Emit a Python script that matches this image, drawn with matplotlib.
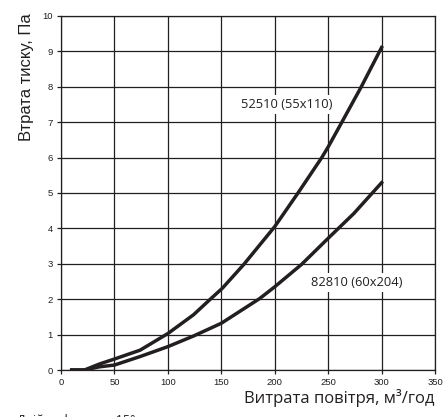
import matplotlib
matplotlib.use("Agg")
from matplotlib import pyplot as plt

# Curve 52510 (55x110)
flow_a = [10, 22, 36, 50, 74, 100, 124, 139, 151, 171, 200, 222, 230, 244, 250, 263, 281, 300]
loss_a = [0, 0, 0.17, 0.31, 0.56, 1.03, 1.56, 1.98, 2.31, 2.98, 4.05, 5.01, 5.37, 6.0, 6.3, 7.01, 8.0, 9.11]

# Curve 82810 (60x204)
flow_b = [10, 22, 36, 50, 74, 100, 124, 150, 186, 200, 225, 250, 274, 300]
loss_b = [0, 0, 0.09, 0.14, 0.38, 0.66, 0.96, 1.32, 2.02, 2.35, 2.98, 3.72, 4.42, 5.29]

label_a = "52510 (55x110)"
label_b = "82810 (60x204)"


def main():
    fig = plt.figure(figsize=(4.43, 4.17), dpi=100)
    ax = fig.add_axes([0.1377, 0.1127, 0.8443, 0.849])

    ax.plot(flow_a, loss_a, color="#231f20", lw=2.5, solid_joinstyle="round", zorder=3)
    ax.plot(flow_b, loss_b, color="#231f20", lw=2.5, solid_joinstyle="round", zorder=3)

    ax.set_xlim(0, 350)
    ax.set_ylim(0, 10)
    ax.set_xticks(range(0, 351, 50))
    ax.set_yticks(range(0, 11))
    ax.grid(True, color="#231f20", lw=0.9)
    ax.set_axisbelow(True)
    for s in ax.spines.values():
        s.set_color("#231f20")
        s.set_linewidth(0.9)
    ax.tick_params(labelsize=6.8, length=3, width=0.9, color="#231f20",
                   labelcolor="#231f20", pad=3)
    for lab in ax.get_xticklabels() + ax.get_yticklabels():
        lab.set_family("Liberation Sans")

    # y label sits high, next to the top of the axis
    fig.text(27 / 443, 1 - 13 / 417, "Втрата тиску, Па", family="Liberation Sans",
             fontsize=12, color="#231f20", rotation=90, ha="center", va="top")

    box = dict(facecolor="white", edgecolor="none", pad=2)
    ax.text(211, 7.49, label_a, family="Open Sans", fontsize=9.3, color="#231f20",
            ha="center", va="center", bbox=box, zorder=2)
    ax.text(277, 2.47, label_b, family="Open Sans", fontsize=9.3, color="#231f20",
            ha="center", va="center", bbox=box, zorder=2)

    fig.text(434 / 443, 1 - 398 / 417, "Витрата повітря, м³/год", family="Open Sans",
             fontsize=12, color="#231f20", ha="right", va="center")
    fig.text(17 / 443, 3 / 417, "Двій дефлектор 15°", family="Open Sans",
             fontsize=9, color="#231f20", ha="left", va="top")

    fig.savefig("out.png", dpi=100)
    plt.close(fig)


if __name__ == "__main__":
    main()
